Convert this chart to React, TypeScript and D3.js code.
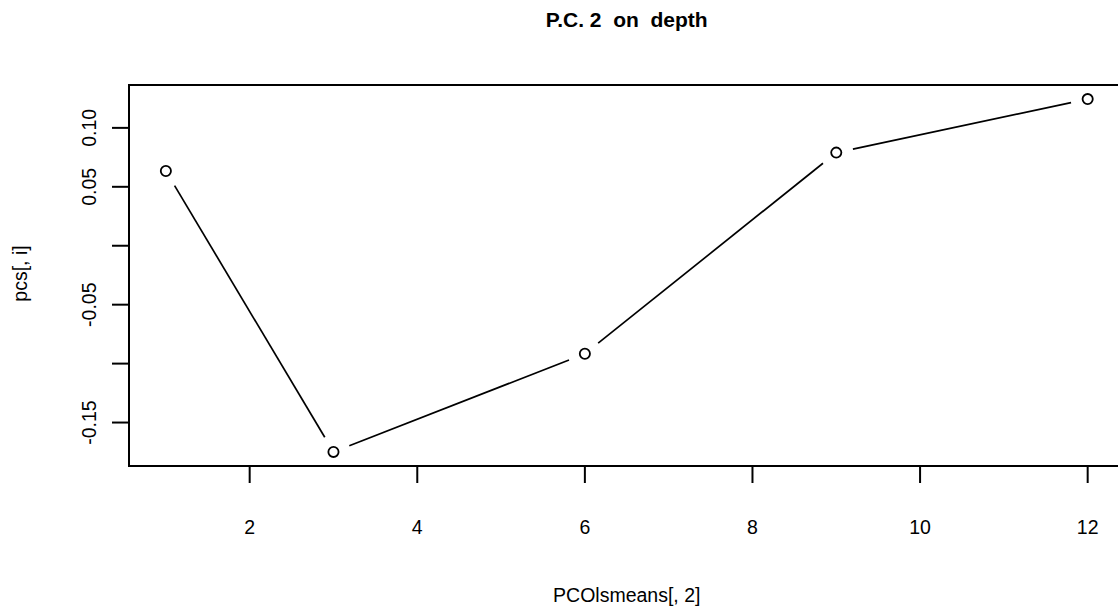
import React from 'react';
import * as d3 from 'd3';

const depths = [1, 3, 6, 9, 12];
const pcValues = [0.0634, -0.1749, -0.0917, 0.079, 0.1244];
const xTicks = [2, 4, 6, 8, 10, 12];
const yTicks = [-0.15, -0.1, -0.05, 0, 0.05, 0.1];
const yLabelled = [-0.15, -0.05, 0.05, 0.1];

const W = 1118;
const H = 608;
const font = 'Liberation Sans, Arial, Helvetica, sans-serif';

// R style axis range: data range padded by 4% on each side
const pad = (vals: number[]) => {
  const [lo, hi] = d3.extent(vals) as [number, number];
  const d = (hi - lo) * 0.04;
  return [lo - d, hi + d];
};

const App = () => {
  const left = 129;
  const top = 85;
  const bottom = 466;
  const pxPerUnit = 83.8;
  const xDom = pad(depths);
  const right = left + (xDom[1] - xDom[0]) * pxPerUnit;

  const x = d3.scaleLinear().domain(xDom).range([left, right]);
  const y = d3.scaleLinear().domain(pad(pcValues)).range([bottom, top]);

  const pts = depths.map((d, i) => [x(d), y(pcValues[i])]);
  const gap = 17;
  const segs = d3.pairs(pts).map(([a, b]) => {
    const dx = b[0] - a[0];
    const dy = b[1] - a[1];
    const len = Math.hypot(dx, dy);
    const ux = dx / len;
    const uy = dy / len;
    return [a[0] + ux * gap, a[1] + uy * gap, b[0] - ux * gap, b[1] - uy * gap];
  });

  const tickLen = 17;
  const midX = (left + right) / 2;
  const midY = (top + bottom) / 2;

  return (
    <svg width={W} height={H} style={{ position: 'absolute', left: 0, top: 0, background: '#fff' }} fontFamily={font}>
      <text x={midX} y={27} textAnchor="middle" fontWeight="bold" fontSize={21}>
        P.C. 2{'\u00a0'} on{'\u00a0'} depth
      </text>

      <rect x={left} y={top} width={right - left} height={bottom - top} fill="none" stroke="#000" strokeWidth={2} />

      {/* x axis */}
      <line x1={x(xTicks[0])} x2={x(xTicks[xTicks.length - 1])} y1={bottom} y2={bottom} stroke="#000" strokeWidth={2} />
      {xTicks.map((t) => (
        <g key={t}>
          <line x1={x(t)} x2={x(t)} y1={bottom} y2={bottom + tickLen} stroke="#000" strokeWidth={2} />
          <text x={x(t)} y={bottom + 68} textAnchor="middle" fontSize={19.5}>
            {t}
          </text>
        </g>
      ))}

      {/* y axis */}
      {yTicks.map((t) => (
        <g key={t}>
          <line x1={left - tickLen} x2={left} y1={y(t)} y2={y(t)} stroke="#000" strokeWidth={2} />
          {yLabelled.includes(t) && (
            <text transform={`translate(${left - 33},${y(t)}) rotate(-90)`} textAnchor="middle" fontSize={19.5}>
              {t.toFixed(2)}
            </text>
          )}
        </g>
      ))}

      <text x={midX} y={bottom + 136} textAnchor="middle" fontSize={19.5}>
        PCOlsmeans[, 2]
      </text>
      <text transform={`translate(${left - 102},${midY - 2}) rotate(-90)`} textAnchor="middle" fontSize={19.5}>
        pcs[, i]
      </text>

      {segs.map((s, i) => (
        <line key={i} x1={s[0]} y1={s[1]} x2={s[2]} y2={s[3]} stroke="#000" strokeWidth={1.7} />
      ))}
      {pts.map((p, i) => (
        <circle key={i} cx={p[0]} cy={p[1]} r={5.1} fill="none" stroke="#000" strokeWidth={1.8} />
      ))}
    </svg>
  );
};

export default App;
